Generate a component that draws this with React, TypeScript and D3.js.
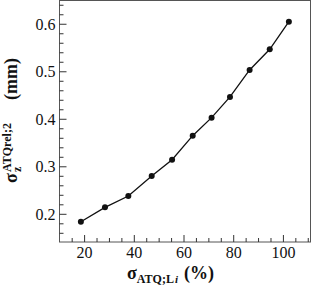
import React from "react";
import * as d3 from "d3";

const xValues = [18.5, 28.2, 37.6, 47.0, 55.2, 63.5, 71.1, 78.5, 86.4, 94.5, 102.2];
const yValues = [0.1844, 0.2147, 0.2385, 0.2806, 0.315, 0.3655, 0.4034, 0.447, 0.5038, 0.5474, 0.6055];
const xTickLabels = [20, 40, 60, 80, 100];
const yTickLabels = [0.2, 0.3, 0.4, 0.5, 0.6];

const W = 312;
const H = 288;
const L = 59.5, R = 310.5, T = 0.5, B = 242;
const FONT = "Liberation Serif, Times New Roman, Times, serif";

export default function App() {
  const x = d3.scaleLinear().domain([9.9, 110.9]).range([L, R]);
  const y = d3.scaleLinear().domain([0.1417, 0.65]).range([B, T]);
  const line = d3.line<number>().x((d, i) => x(xValues[i])).y((d) => y(d));
  const xMinor = d3.range(15, 111, 5).filter((v) => v % 20 !== 0);
  const yMinor = d3.range(16, 65, 2).map((v) => v / 100).filter((v) => Math.round(v * 100) % 10 !== 0);
  const ts = { fontFamily: FONT };
  const titleStart = 183;
  return (
    <svg width={W} height={H} style={{ position: "absolute", left: 0, top: 0, fontFamily: FONT }}>
      <style>{`body{margin:0} svg text{font-family:"Liberation Serif","Times New Roman",serif}`}</style>
      <rect x={L} y={T} width={R - L} height={B - T} fill="none" stroke="#555" strokeWidth={1} />
      {yTickLabels.map((v) => (
        <line key={"ym" + v} x1={L} x2={L + 7} y1={y(v)} y2={y(v)} stroke="#333" strokeWidth={1} />
      ))}
      {yMinor.map((v) => (
        <line key={"yn" + v} x1={L} x2={L + 4} y1={y(v)} y2={y(v)} stroke="#333" strokeWidth={1} />
      ))}
      {xTickLabels.map((v) => (
        <line key={"xm" + v} x1={x(v)} x2={x(v)} y1={B} y2={B - 7} stroke="#333" strokeWidth={1} />
      ))}
      {xMinor.map((v) => (
        <line key={"xn" + v} x1={x(v)} x2={x(v)} y1={B} y2={B - 4} stroke="#333" strokeWidth={1} />
      ))}
      {yTickLabels.map((v) => (
        <text key={"yl" + v} x={55.5} y={y(v) + 5.5} fontSize={16} textAnchor="end" fill="#111" style={ts}>
          {v.toFixed(1)}
        </text>
      ))}
      {xTickLabels.map((v) => (
        <text key={"xl" + v} x={x(v)} y={257.5} fontSize={16} textAnchor="middle" fill="#111" style={ts}>
          {v}
        </text>
      ))}
      <path d={line(yValues) || ""} fill="none" stroke="#111" strokeWidth={1.3} />
      {yValues.map((v, i) => (
        <circle key={"p" + i} cx={x(xValues[i])} cy={y(v)} r={3} fill="#111" />
      ))}
      <text x={127} y={279} fontSize={18} fontWeight="bold" fill="#111" style={ts}>
        σ
        <tspan fontSize={12} dy={4}>ATQ;L</tspan>
        <tspan fontSize={11} fontStyle="italic" dx={1}>i</tspan>
        <tspan fontSize={18} dy={-4} dx={6}>(%)</tspan>
      </text>
      <g transform={`translate(16.5, ${titleStart}) rotate(-90)`} fill="#111" fontWeight="bold">
        <text x={0} y={0} fontSize={18} style={ts}>σ</text>
        <text x={11} y={4} fontSize={12} style={ts}>z</text>
        <text x={11} y={-6} fontSize={12} style={ts}>ATQrel;2</text>
        <text x={125} y={0} fontSize={18} textAnchor="end" style={ts}>(mm)</text>
      </g>
    </svg>
  );
}
